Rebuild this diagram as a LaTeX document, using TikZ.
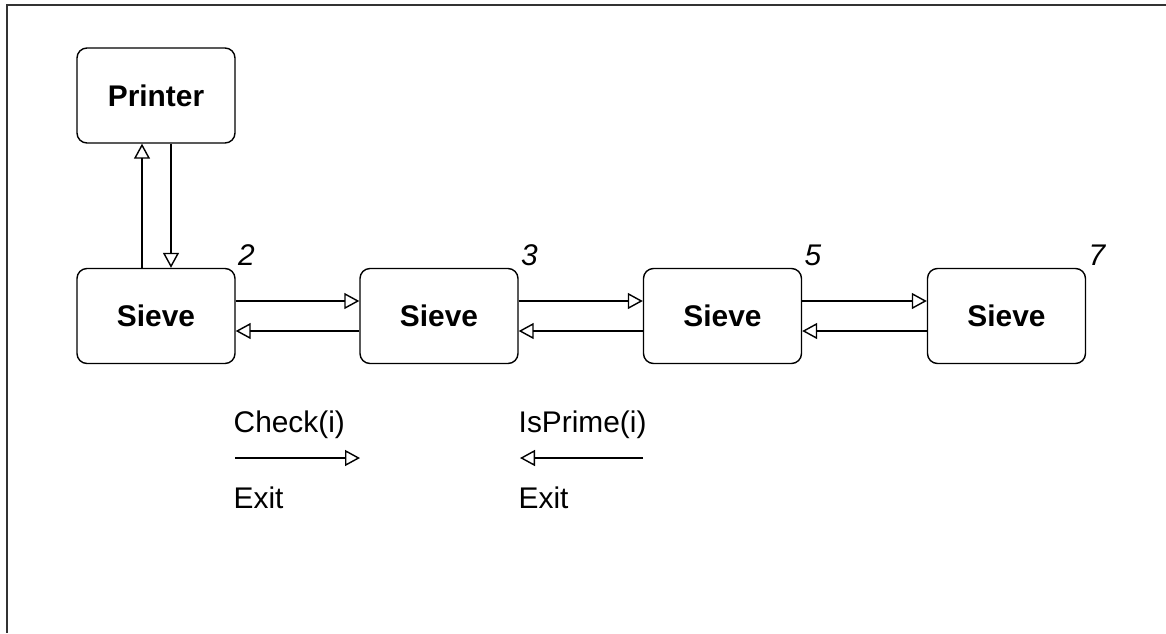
\documentclass[tikz,border=0pt]{standalone}
\usepackage{fontspec}
\setmainfont{Liberation Sans}
\usetikzlibrary{%
  arrows.meta,%
  positioning% wg. " of "
}

\begin{document}
\begin{tikzpicture}[
  font=\fontsize{17pt}{20pt}\selectfont, >={Triangle[open,length=3mm,width=3.2mm]},
  line width=0.8pt,
  sievebox/.style={rectangle, minimum height=19mm, minimum width=31.6mm, draw=black, rounded corners=2mm, font=\fontsize{17pt}{20pt}\selectfont\bfseries},
  primeno/.style={font=\fontsize{17pt}{20pt}\selectfont\itshape, inner sep=1pt},
  legendtext/.style={anchor=base west, inner sep=0pt}
]
\useasboundingbox (0,0) rectangle (23.32,-12.66);
\draw[line width=1.4pt, black!80] (23.32,-0.1) -- (0.14,-0.1) -- (0.14,-12.66);

\node[sievebox] (pr) at (3.12,-1.91) {Printer};
\node[sievebox, label={[primeno]north east:2}] (sv2) at (3.12,-6.32) {Sieve};
\node[sievebox, label={[primeno]north east:3}] (sv3) at (8.78,-6.32) {Sieve};
\node[sievebox, label={[primeno]north east:5}] (sv5) at (14.45,-6.32) {Sieve};
\node[sievebox, label={[primeno]north east:7}] (sv7) at (20.13,-6.32) {Sieve};

\draw[->] ([xshift=-0.28cm]sv2.north) -- ([xshift=-0.28cm]pr.south);
\draw[->] ([xshift=0.3cm]pr.south) -- ([xshift=0.3cm]sv2.north);
\draw[->] ([yshift=0.3cm]sv2.east) -- ([yshift=0.3cm]sv3.west);
\draw[->] ([yshift=-0.3cm]sv3.west) -- ([yshift=-0.3cm]sv2.east);
\draw[->] ([yshift=0.3cm]sv3.east) -- ([yshift=0.3cm]sv5.west);
\draw[->] ([yshift=-0.3cm]sv5.west) -- ([yshift=-0.3cm]sv3.east);
\draw[->] ([yshift=0.3cm]sv5.east) -- ([yshift=0.3cm]sv7.west);
\draw[->] ([yshift=-0.3cm]sv7.west) -- ([yshift=-0.3cm]sv5.east);

% legend
\node[legendtext] (chk) at (4.66,-8.64) {Check(i)};
\node[legendtext] (ex1) at (4.66,-10.16) {Exit};
\coordinate (chka) at (4.7,-9.16);
\coordinate (chkb) at (7.2,-9.16);
\draw[->] (chka) -- (chkb);
\node[legendtext] (isp) at (10.36,-8.64) {IsPrime(i)};
\node[legendtext] (ex2) at (10.36,-10.16) {Exit};
\coordinate (ispa) at (12.86,-9.16);
\coordinate (ispb) at (10.4,-9.16);
\draw[->] (ispa) -- (ispb);
\end{tikzpicture}
\end{document}
